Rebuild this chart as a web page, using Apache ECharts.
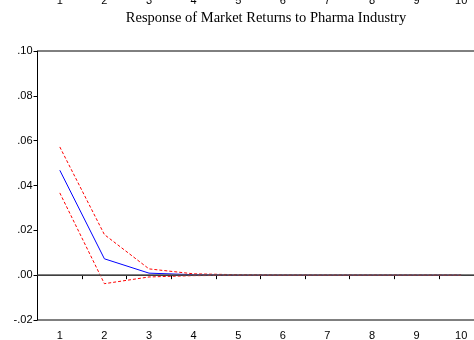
<!DOCTYPE html>
<html><head><meta charset="utf-8">
<script src="https://cdn.jsdelivr.net/npm/echarts@6/dist/echarts.min.js"></script>
<style>html,body{margin:0;padding:0;background:#fff}#c{width:474px;height:340px}</style>
</head><body><div id="c"></div>
<script>
var categories = ['1','2','3','4','5','6','7','8','9','10'];
var response = [0.0468, 0.0073, 0.0009, 0.0002, 0.0000, 0.0000, 0.0000, 0.0000, 0.0000, 0.0000];
var upperBand = [0.0572, 0.0181, 0.0028, 0.0006, 0.0002, 0.0001, 0.0001, 0.0001, 0.0001, 0.0001];
var lowerBand = [0.0367, -0.0038, -0.0008, -0.0002, -0.0001, -0.0001, -0.0001, -0.0001, -0.0001, -0.0001];
var titleText = 'Response of Market Returns to Pharma Industry';

var chart = echarts.init(document.getElementById('c'));
function fmt(v){ var s = Math.abs(v).toFixed(2).replace(/^0/, ''); return (v < 0 ? '-' : '') + s; }
chart.setOption({
  animation: false,
  title: { text: titleText, left: 261, top: 6, textAlign: 'center',
    textStyle: { fontFamily: 'Liberation Serif', fontSize: 14.5, fontWeight: 'normal', color: '#000' } },
  grid: [
    { left: 37.5, top: 51, width: 446, height: 269, show: true, borderColor: '#000', borderWidth: 1,
      backgroundColor: 'transparent', outerBoundsMode: 'none', containLabel: false },
    { left: 37.5, top: -30, width: 446, height: 20, show: false, outerBoundsMode: 'none', containLabel: false }
  ],
  xAxis: [
    { type: 'category', data: categories, gridIndex: 0, boundaryGap: true,
      axisLine: { lineStyle: { color: '#000', width: 1 } },
      axisTick: { show: true, length: 4, lineStyle: { color: '#000' } },
      axisLabel: { margin: 10, fontFamily: 'Liberation Sans', fontSize: 11, color: '#000' } },
    { type: 'category', data: categories, gridIndex: 1, boundaryGap: true,
      axisLine: { show: false }, axisTick: { show: false },
      axisLabel: { margin: 5, fontFamily: 'Liberation Sans', fontSize: 11, color: '#000' } }
  ],
  yAxis: [
    { type: 'value', gridIndex: 0, min: -0.02, max: 0.10, interval: 0.02,
      axisLine: { show: true, lineStyle: { color: '#000', width: 1 } },
      axisTick: { show: true, length: 4, lineStyle: { color: '#000' } },
      splitLine: { show: false },
      axisLabel: { margin: 5, formatter: fmt, fontFamily: 'Liberation Sans', fontSize: 11, color: '#000' } },
    { type: 'value', gridIndex: 1, show: false }
  ],
  series: [
    { type: 'line', data: response, xAxisIndex: 0, yAxisIndex: 0, symbol: 'none',
      lineStyle: { color: '#0000ff', width: 1 }, z: 3,
      markLine: { silent: true, symbol: 'none', label: { show: false },
        lineStyle: { color: '#555', width: 1.5, type: 'solid' }, data: [{ yAxis: 0 }] } },
    { type: 'line', data: upperBand, symbol: 'none',
      lineStyle: { color: '#ff0000', width: 1, type: [3, 2] }, z: 4 },
    { type: 'line', data: lowerBand, symbol: 'none',
      lineStyle: { color: '#ff0000', width: 1, type: [3, 2] }, z: 4 },
    { type: 'line', data: [], xAxisIndex: 1, yAxisIndex: 1 }
  ]
});
</script></body></html>
